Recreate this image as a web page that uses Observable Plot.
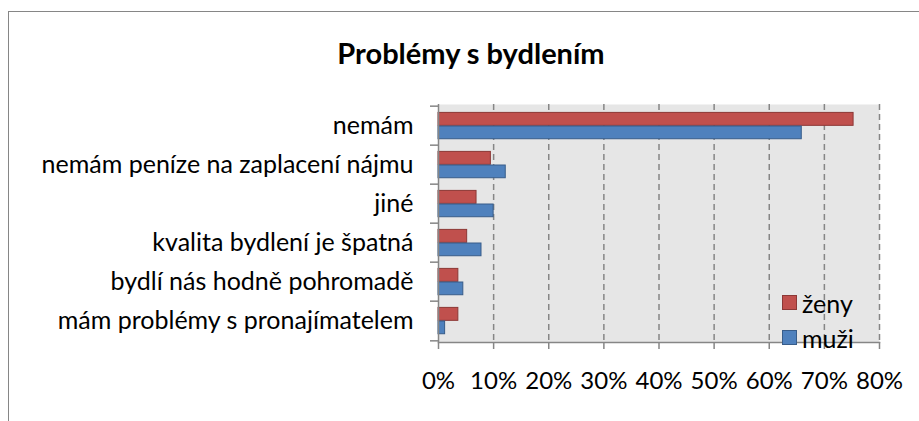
<!DOCTYPE html>
<html>
<head>
<meta charset="utf-8">
<script src="https://cdn.jsdelivr.net/npm/d3@7"></script>
<script src="https://cdn.jsdelivr.net/npm/@observablehq/plot@0.6"></script>
<style>
  html, body { margin: 0; padding: 0; background: #fff; }
  #chart { position: relative; width: 919px; height: 421px; overflow: hidden; font-family: Lato, "Open Sans", sans-serif; }
  #border { position: absolute; left: 8px; top: 11px; width: 1000px; height: 1000px; border: 1.5px solid #868686; box-sizing: border-box; }
  #title { position: absolute; left: 0; top: 36px; width: 942px; text-align: center; font-weight: bold; font-size: 29px; line-height: 34px; color: #000; }
  #plot { position: absolute; left: 0; top: 90px; }
  #legend { position: absolute; left: 782px; top: 285px; font-size: 25px; color: #000; }
  .item { display: flex; align-items: center; height: 35px; }
  .sw { width: 15px; height: 15px; margin-right: 5px; box-sizing: border-box; border: 1px solid; }
</style>
</head>
<body>
<div id="chart">
  <div id="border"></div>
  <div id="title">Problémy s bydlením</div>
  <div id="plot"></div>
  <div id="legend"></div>
</div>
<script>
const categories = [
  "nemám",
  "nemám peníze na zaplacení nájmu",
  "jiné",
  "kvalita bydlení je špatná",
  "bydlí nás hodně pohromadě",
  "mám problémy s pronajímatelem"
];
const zeny = [0.753, 0.095, 0.069, 0.052, 0.036, 0.036];
const muzi = [0.659, 0.122, 0.100, 0.078, 0.045, 0.012];
const xTicks = [0, 0.1, 0.2, 0.3, 0.4, 0.5, 0.6, 0.7, 0.8];
const seriesNames = ["ženy", "muži"];
const seriesFill = ["#C0504D", "#4F81BD"];
const seriesStroke = ["#8C3836", "#385D8A"];

const data = categories.map((c, i) => ({cat: c, zeny: zeny[i], muzi: muzi[i]}));

const W = 919, H = 331, mT = 14, mB = 79;
const bw = (H - mT - mB) / categories.length;
const grey = "#868686";

const chart = Plot.plot({
  width: W, height: H,
  marginLeft: 438, marginRight: 40, marginTop: mT, marginBottom: mB,
  style: {fontFamily: "Lato, 'Open Sans', sans-serif", fontSize: "25px", background: "transparent", color: "#000"},
  x: {domain: [0, 0.8], label: null},
  y: {domain: categories, padding: 0, label: null},
  marks: [
    Plot.frame({fill: "#E6E6E6", stroke: null}),
    Plot.gridX(xTicks.slice(1), {stroke: grey, strokeOpacity: 1, strokeWidth: 1.5, strokeDasharray: "6,4"}),
    Plot.barX(data, {x: "zeny", y: "cat", fill: seriesFill[0], stroke: seriesStroke[0], strokeWidth: 1, insetTop: 6.4, insetBottom: bw - 20}),
    Plot.barX(data, {x: "muzi", y: "cat", fill: seriesFill[1], stroke: seriesStroke[1], strokeWidth: 1, insetTop: 20, insetBottom: bw - 33.4}),
    Plot.ruleX([0], {stroke: grey, strokeWidth: 1.5}),
    Plot.frame({anchor: "bottom", stroke: grey, strokeWidth: 1.5}),
    Plot.axisY({tickSize: 8, tickFormat: () => "", label: null, dy: -bw / 2, stroke: grey, strokeWidth: 1.5}),
    Plot.axisY({ticks: [categories[categories.length - 1]], tickSize: 8, tickFormat: () => "", label: null, dy: bw / 2, stroke: grey, strokeWidth: 1.5}),
    Plot.axisY({tickSize: 0, tickPadding: 25, label: null, fill: "#000", fontSize: 25}),
    Plot.axisX({ticks: xTicks, tickSize: 7, tickPadding: 22, label: null, tickFormat: d3.format(".0%"), stroke: grey, strokeWidth: 1.5, fill: "#000", fontSize: 24})
  ]
});
document.getElementById("plot").appendChild(chart);

const legend = document.getElementById("legend");
seriesNames.forEach((name, i) => {
  const item = document.createElement("div");
  item.className = "item";
  const sw = document.createElement("span");
  sw.className = "sw";
  sw.style.background = seriesFill[i];
  sw.style.borderColor = seriesStroke[i];
  const t = document.createElement("span");
  t.textContent = name;
  item.appendChild(sw);
  item.appendChild(t);
  legend.appendChild(item);
});
</script>
</body>
</html>
